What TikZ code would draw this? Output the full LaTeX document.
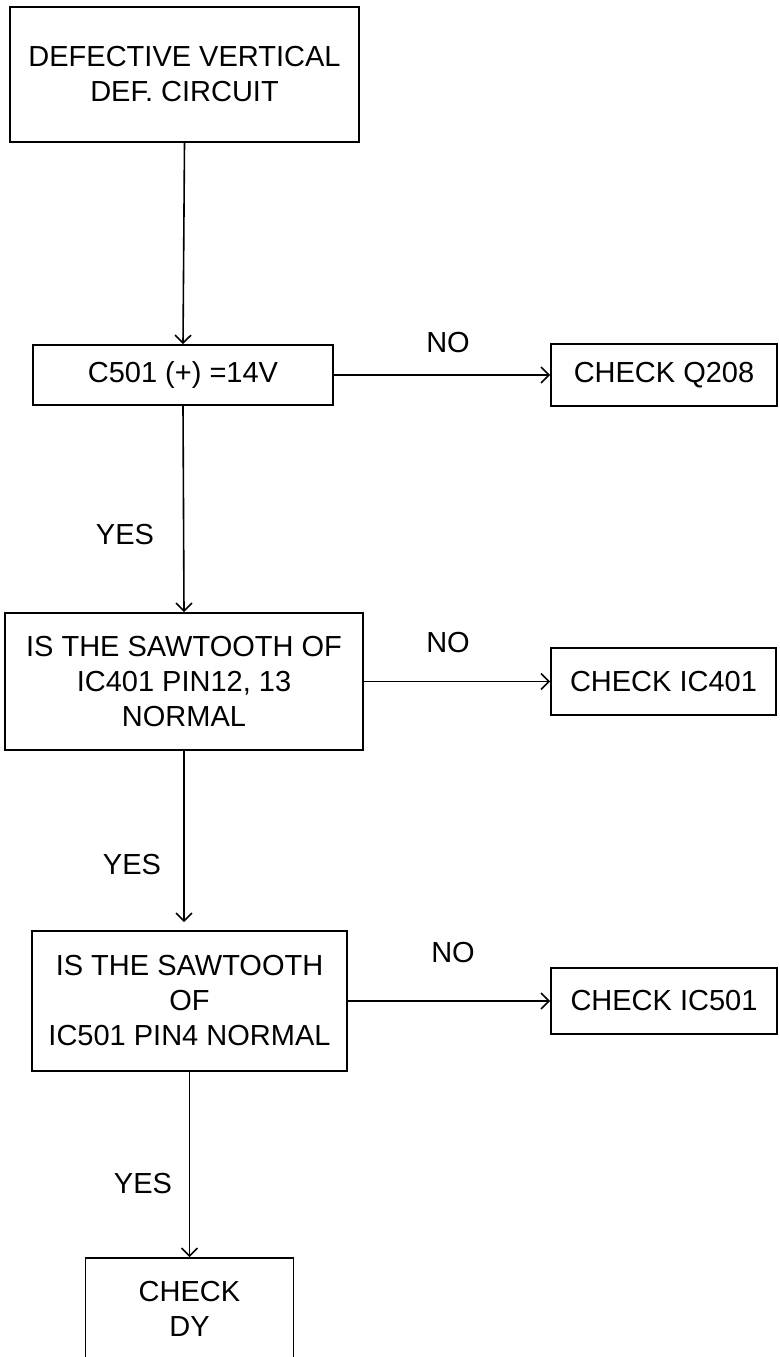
\documentclass[tikz,border=0pt]{standalone}
\usepackage{fontspec}
\setmainfont{Liberation Sans}
\usetikzlibrary{arrows.meta}
\begin{document}
\begin{tikzpicture}[x=1pt,y=1pt,
  box/.style={draw, line width=1.7pt, inner sep=0pt, align=center, font=\fontsize{29}{35}\selectfont},
  lbl/.style={font=\fontsize{29}{35}\selectfont, inner sep=0pt},
  arr/.style={line width=1.6pt, -{Straight Barb[length=8pt,width=16pt,line width=1.6pt]}}]
\useasboundingbox (0,0) rectangle (779,-1357);
\clip (0,0) rectangle (779,-1357);
% main column
\node[box, minimum width=349pt, minimum height=135pt] (b1) at (184.5,-74.5) {DEFECTIVE VERTICAL\\DEF. CIRCUIT};
\node[box, minimum width=300pt, minimum height=60pt] (b2) at (183,-375) {C501 (+) =14V};
\node[box, minimum width=358pt, minimum height=137pt] (b3) at (184,-681.5) {IS THE SAWTOOTH OF\\IC401 PIN12, 13\\NORMAL};
\node[box, minimum width=315pt, minimum height=140pt] (b4) at (189.5,-1001) {IS THE SAWTOOTH\\OF\\IC501 PIN4 NORMAL};
\node[box, minimum width=208pt, minimum height=102pt] (b5) at (189.5,-1309) {CHECK\\DY};
% side column
\node[box, minimum width=226pt, minimum height=62pt] (q208) at (664,-375) {CHECK Q208};
\node[box, minimum width=225pt, minimum height=67pt] (ic401) at (663.5,-681.5) {CHECK IC401};
\node[box, minimum width=226pt, minimum height=66pt] (ic501) at (664,-1001) {CHECK IC501};
% labels
\node[lbl] (no1) at (448,-343) {NO};
\node[lbl] (no2) at (448,-643) {NO};
\node[lbl] (no3) at (453,-953) {NO};
\node[lbl] (yes1) at (125,-535) {YES};
\node[lbl] (yes2) at (132,-865) {YES};
\node[lbl] (yes3) at (143,-1184) {YES};
% connectors
\draw[arr] (b1.south) -- (b2.north);
\draw[arr] (b2.south) -- (b3.north);
\draw[arr, shorten >=8pt] (b3.south) -- (b3.south |- b4.north);
\draw[arr] (b4.south) -- (b5.north);
\draw[arr] (b2.east) -- (q208.west);
\draw[arr] (b3.east) -- (ic401.west);
\draw[arr] (b4.east) -- (ic501.west);
\end{tikzpicture}
\end{document}
